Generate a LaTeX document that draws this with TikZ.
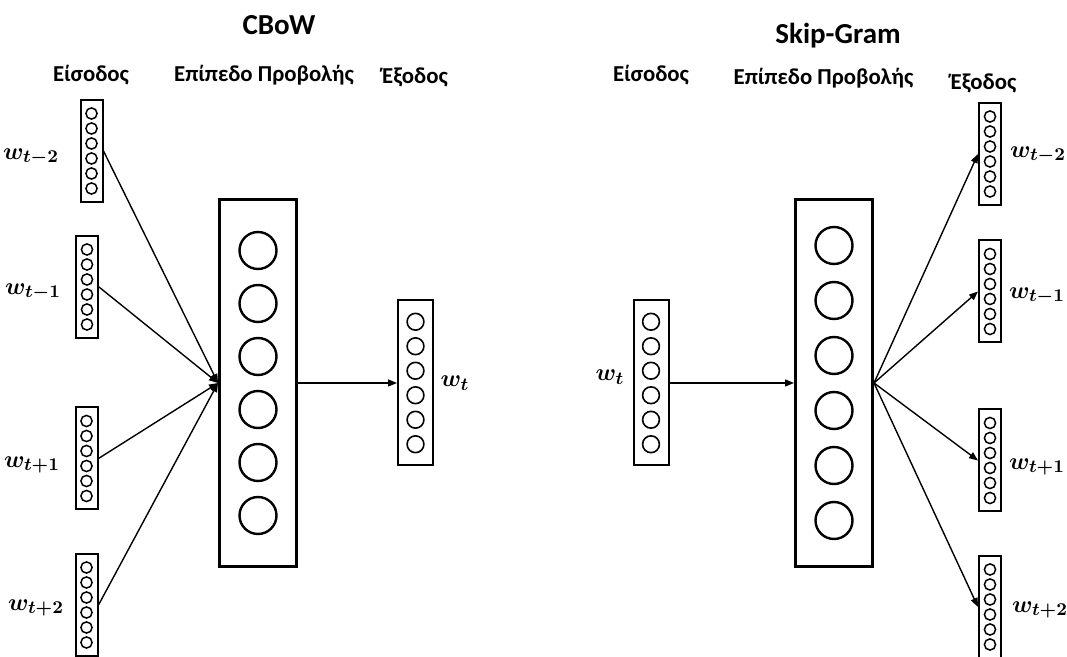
\documentclass[tikz,border=0pt]{standalone}
\usepackage{fontspec}
\setmainfont{Carlito}
\usetikzlibrary{arrows.meta,calc}

\tikzset{
  vecsmall/.style={draw, line width=1pt, minimum width=11pt, minimum height=51pt, inner sep=0pt},
  vecmid/.style={draw, line width=1pt, minimum width=17.5pt, minimum height=82.5pt, inner sep=0pt},
  vecproj/.style={draw, line width=1.5pt, minimum width=38.5pt, minimum height=183.5pt, inner sep=0pt},
  modeltitle/.style={font=\bfseries\fontsize{14.5}{17}\selectfont},
  layer/.style={font=\bfseries\fontsize{11.4}{13}\selectfont},
  wlabel/.style={font=\fontsize{12.5}{14}\selectfont\boldmath},
  link/.style={line width=0.7pt, -{Triangle[length=4.5pt,width=3.5pt]}}
}

% six units stacked inside a vector box
\newcommand{\vecunits}[4]{%
  \foreach \k in {-2.5,-1.5,...,2.5}
    \draw[line width=#4] ($(#1)+(0,\k*#2)$) circle[radius=#3];
}

\begin{document}
\begin{tikzpicture}[x=0.5pt,y=-0.5pt]
  \useasboundingbox (0,0) rectangle (1067,657);

  % CBoW
  \node[modeltitle] (tcbow) at (279,25) {CBoW};
  \node[layer] (hin1) at (91,75) {Είσοδος};
  \node[layer] (hproj1) at (264,75) {Επίπεδο Προβολής};
  \node[layer] (hout1) at (415,77) {Έξοδος};

  \node[vecsmall] (in1) at (91.5,151) {};
  \node[vecsmall] (in2) at (87,287) {};
  \node[vecsmall] (in3) at (86.5,458.5) {};
  \node[vecsmall] (in4) at (86.5,605) {};
  \node[vecproj] (proj1) at (258,383) {};
  \node[vecmid] (out) at (415.5,383) {};

  \foreach \n in {in1,in2,in3,in4} {\vecunits{\n}{15}{2.8pt}{0.75pt}}
  \vecunits{proj1}{53}{9.25pt}{1.2pt}
  \vecunits{out}{24.5}{4.2pt}{0.8pt}

  \node[wlabel] (lin1) at (31,157) {$w_{t-2}$};
  \node[wlabel] (lin2) at (33,292) {$w_{t-1}$};
  \node[wlabel] (lin3) at (32,465) {$w_{t+1}$};
  \node[wlabel] (lin4) at (36,608) {$w_{t+2}$};
  \node[wlabel] (lout) at (455,383) {$w_{t}$};

  \foreach \n in {in1,in2,in3,in4} {\draw[link] (\n.east) -- (proj1.west);}
  \draw[link] (proj1.east) -- (out.west);

  % Skip-Gram
  \node[modeltitle] (tskip) at (838,36) {Skip-Gram};
  \node[layer] (hin2) at (651,75) {Είσοδος};
  \node[layer] (hproj2) at (823.5,78) {Επίπεδο Προβολής};
  \node[layer] (hout2) at (983.5,83) {Έξοδος};

  \node[vecmid] (sin) at (651,383) {};
  \node[vecproj] (proj2) at (834,383) {};
  \node[vecsmall] (sout1) at (990,154) {};
  \node[vecsmall] (sout2) at (990,291.5) {};
  \node[vecsmall] (sout3) at (990,460.5) {};
  \node[vecsmall] (sout4) at (990,607) {};

  \vecunits{sin}{24.5}{4.2pt}{0.8pt}
  \vecunits{proj2}{55}{9.25pt}{1.2pt}
  \foreach \n in {sout1,sout2,sout3,sout4} {\vecunits{\n}{15}{2.8pt}{0.75pt}}

  \node[wlabel] (lsin) at (610,377) {$w_{t}$};
  \node[wlabel] (lsout1) at (1038,155) {$w_{t-2}$};
  \node[wlabel] (lsout2) at (1037,296) {$w_{t-1}$};
  \node[wlabel] (lsout3) at (1037,467) {$w_{t+1}$};
  \node[wlabel] (lsout4) at (1040,610) {$w_{t+2}$};

  \draw[link] (sin.east) -- (proj2.west);
  \foreach \n in {sout1,sout2,sout3,sout4} {\draw[link] (proj2.east) -- (\n.west);}

\end{tikzpicture}
\end{document}
